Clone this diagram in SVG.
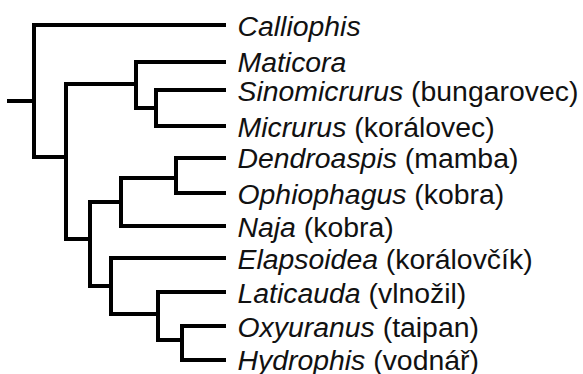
<svg xmlns="http://www.w3.org/2000/svg" width="583" height="374" viewBox="0 0 583 374">
<style>
.e{fill:none;stroke:#000;stroke-width:4;stroke-linecap:square;stroke-linejoin:miter}
.t{font-family:"Liberation Sans",Arial,sans-serif;font-size:28.4px;fill:#111}
.g{font-style:italic}
</style>
<rect width="583" height="374" fill="#fff"/>
<g id="connectors">
<path class="e" d="M9,101 H34"/>
<path class="e" d="M224,25 H34 V157 H66"/>
<path class="e" d="M136,84 H66 V239 H90"/>
<path class="e" d="M224,62 H136 V108 H156"/>
<path class="e" d="M224,90 H156 V126 H224"/>
<path class="e" d="M121,202 H90 V286 H111"/>
<path class="e" d="M176,178 H121 V226 H224"/>
<path class="e" d="M224,158 H176 V193 H224"/>
<path class="e" d="M224,258 H111 V314 H158"/>
<path class="e" d="M224,292 H158 V340 H182"/>
<path class="e" d="M224,326 H182 V360 H224"/>
</g>
<g id="calliophis"><text class="t" x="237.5" y="36"><tspan class="g">Calliophis</tspan></text></g>
<g id="maticora"><text class="t" x="237.5" y="72"><tspan class="g">Maticora</tspan></text></g>
<g id="sinomicrurus"><text class="t" x="237.5" y="101"><tspan class="g">Sinomicrurus</tspan> (bungarovec)</text></g>
<g id="micrurus"><text class="t" x="237.5" y="137"><tspan class="g">Micrurus</tspan> (korálovec)</text></g>
<g id="dendroaspis"><text class="t" x="237.5" y="168"><tspan class="g">Dendroaspis</tspan> (mamba)</text></g>
<g id="ophiophagus"><text class="t" x="237.5" y="204"><tspan class="g">Ophiophagus</tspan> (kobra)</text></g>
<g id="naja"><text class="t" x="237.5" y="237"><tspan class="g">Naja</tspan> (kobra)</text></g>
<g id="elapsoidea"><text class="t" x="237.5" y="269"><tspan class="g">Elapsoidea</tspan> (korálovčík)</text></g>
<g id="laticauda"><text class="t" x="237.5" y="303"><tspan class="g">Laticauda</tspan> (vlnožil)</text></g>
<g id="oxyuranus"><text class="t" x="237.5" y="337"><tspan class="g">Oxyuranus</tspan> (taipan)</text></g>
<g id="hydrophis"><text class="t" x="237.5" y="370"><tspan class="g">Hydrophis</tspan> (vodnář)</text></g>
</svg>
